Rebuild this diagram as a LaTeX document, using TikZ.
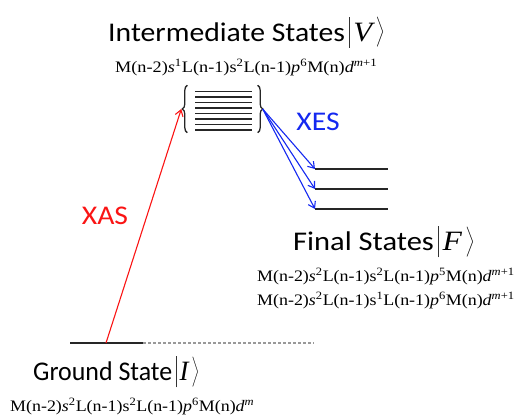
\documentclass[tikz,border=0pt]{standalone}
\usepackage{fontspec}
\setmainfont{Liberation Serif}
\newfontfamily\calfont{Carlito}
\usetikzlibrary{arrows.meta,decorations.pathreplacing}
\newcommand\mybar{\raisebox{-6.5pt}{\color{black!80}\rule{0.7pt}{31pt}}}
\newcommand\myangle{\raisebox{3pt}{$\left.\rule[-12pt]{0pt}{31pt}\right\rangle$}}
\newcommand\myket[1]{\hspace{4pt}\mybar\hspace{3pt}{\fontsize{28}{30}\rmfamily\itshape #1}\hspace{2pt}\myangle}
\newcommand\stretchT[1]{\scalebox{1.1}[1]{#1}}
\newcommand\stretchF[1]{\scalebox{1.12}[1]{#1}}
\newcommand\orb[1]{\textit{#1}}
\begin{document}
\begin{tikzpicture}[x=1pt,y=-1pt,
  title/.style={font=\fontsize{27}{30}\calfont, inner sep=0pt, anchor=base west},
  formula/.style={inner sep=0pt, anchor=base west, font=\fontsize{16}{18}\selectfont},
  level/.style={line width=1.5pt, black!85},
  xes/.style={draw={rgb,255:red,20;green,40;blue,240}, line width=1.1pt, -{Straight Barb[length=6pt,width=8pt]}},
  xas/.style={draw={rgb,255:red,250;green,20;blue,20}, line width=1.1pt, -{Straight Barb[length=6pt,width=8pt]}},
  bracestyle/.style={decorate, decoration={brace, amplitude=5pt}, line width=1.3pt, black!85}]
\useasboundingbox (0,0) rectangle (515,419);
% Intermediate
\node[title] (ttlV) at (108,41.5) {\stretchT{Intermediate States\myket{V}}};
\node[formula] (fV) at (115,73)
  {\scalebox{1.14}[1]{M(n-2)\orb{s}\textsuperscript{1}L(n-1)s\textsuperscript{2}L(n-1)\orb{p}\textsuperscript{6}M(n)\orb{d}\textsuperscript{\textit{m}+1}}};
\node[minimum width=70pt, minimum height=47pt, inner sep=0pt] (box) at (222.5,109) {};
\foreach \yy in {91.7,97.2,102.7,108.2,113.7,119.2,124.7,130.2}
  \draw[line width=1.4pt, black!85] (195,\yy) -- (252,\yy);
\draw[bracestyle] (box.south west) -- (box.north west);
\draw[bracestyle] (box.north east) -- (box.south east);
\coordinate (Ltip) at ([xshift=-6pt]box.west);
\coordinate (Rtip) at ([xshift=5pt]box.east);
% final levels
\coordinate (f1a) at (315,169); \coordinate (f1b) at (388,169);
\coordinate (f2a) at (315,189); \coordinate (f2b) at (388,189);
\coordinate (f3a) at (315,209); \coordinate (f3b) at (388,209);
\draw[level] (f1a) -- (f1b);
\draw[level] (f2a) -- (f2b);
\draw[level] (f3a) -- (f3b);
\draw[xes] (Rtip) -- (f1a);
\draw[xes] (Rtip) -- (f2a);
\draw[xes] (Rtip) -- (f3a);
\node[title, anchor=center, text={rgb,255:red,20;green,40;blue,240}] (xeslbl) at (318,122) {\stretchT{XES}};
% Final
\node[title] (ttlF) at (293,251) {\scalebox{1.13}[1]{Final States\myket{F}}};
\node[formula] (fF1) at (257,282)
  {\stretchF{M(n-2)\orb{s}\textsuperscript{2}L(n-1)s\textsuperscript{2}L(n-1)\orb{p}\textsuperscript{5}M(n)\orb{d}\textsuperscript{\textit{m}+1}}};
\node[formula] (fF2) at (257,306)
  {\stretchF{M(n-2)\orb{s}\textsuperscript{2}L(n-1)s\textsuperscript{1}L(n-1)\orb{p}\textsuperscript{6}M(n)\orb{d}\textsuperscript{\textit{m}+1}}};
% Ground
\coordinate (g1) at (70,343); \coordinate (g2) at (143,343); \coordinate (g3) at (314,343);
\coordinate (gx) at (106,343);
\draw[level] (g1) -- (g2);
\draw[line width=1.2pt, black!40, dash pattern=on 3pt off 2pt] (g2) -- (g3);
\draw[xas] (gx) -- (Ltip);
\node[title, anchor=center, text={rgb,255:red,250;green,20;blue,20}] (xaslbl) at (105,216) {\stretchT{XAS}};
\node[title] (ttlI) at (33,381) {\scalebox{0.96}[1]{Ground State\myket{I}}};
\node[formula] (fI) at (10,412)
  {\stretchF{M(n-2)\orb{s}\textsuperscript{2}L(n-1)s\textsuperscript{2}L(n-1)\orb{p}\textsuperscript{6}M(n)\orb{d}\textsuperscript{\textit{m}}}};
\end{tikzpicture}
\end{document}
